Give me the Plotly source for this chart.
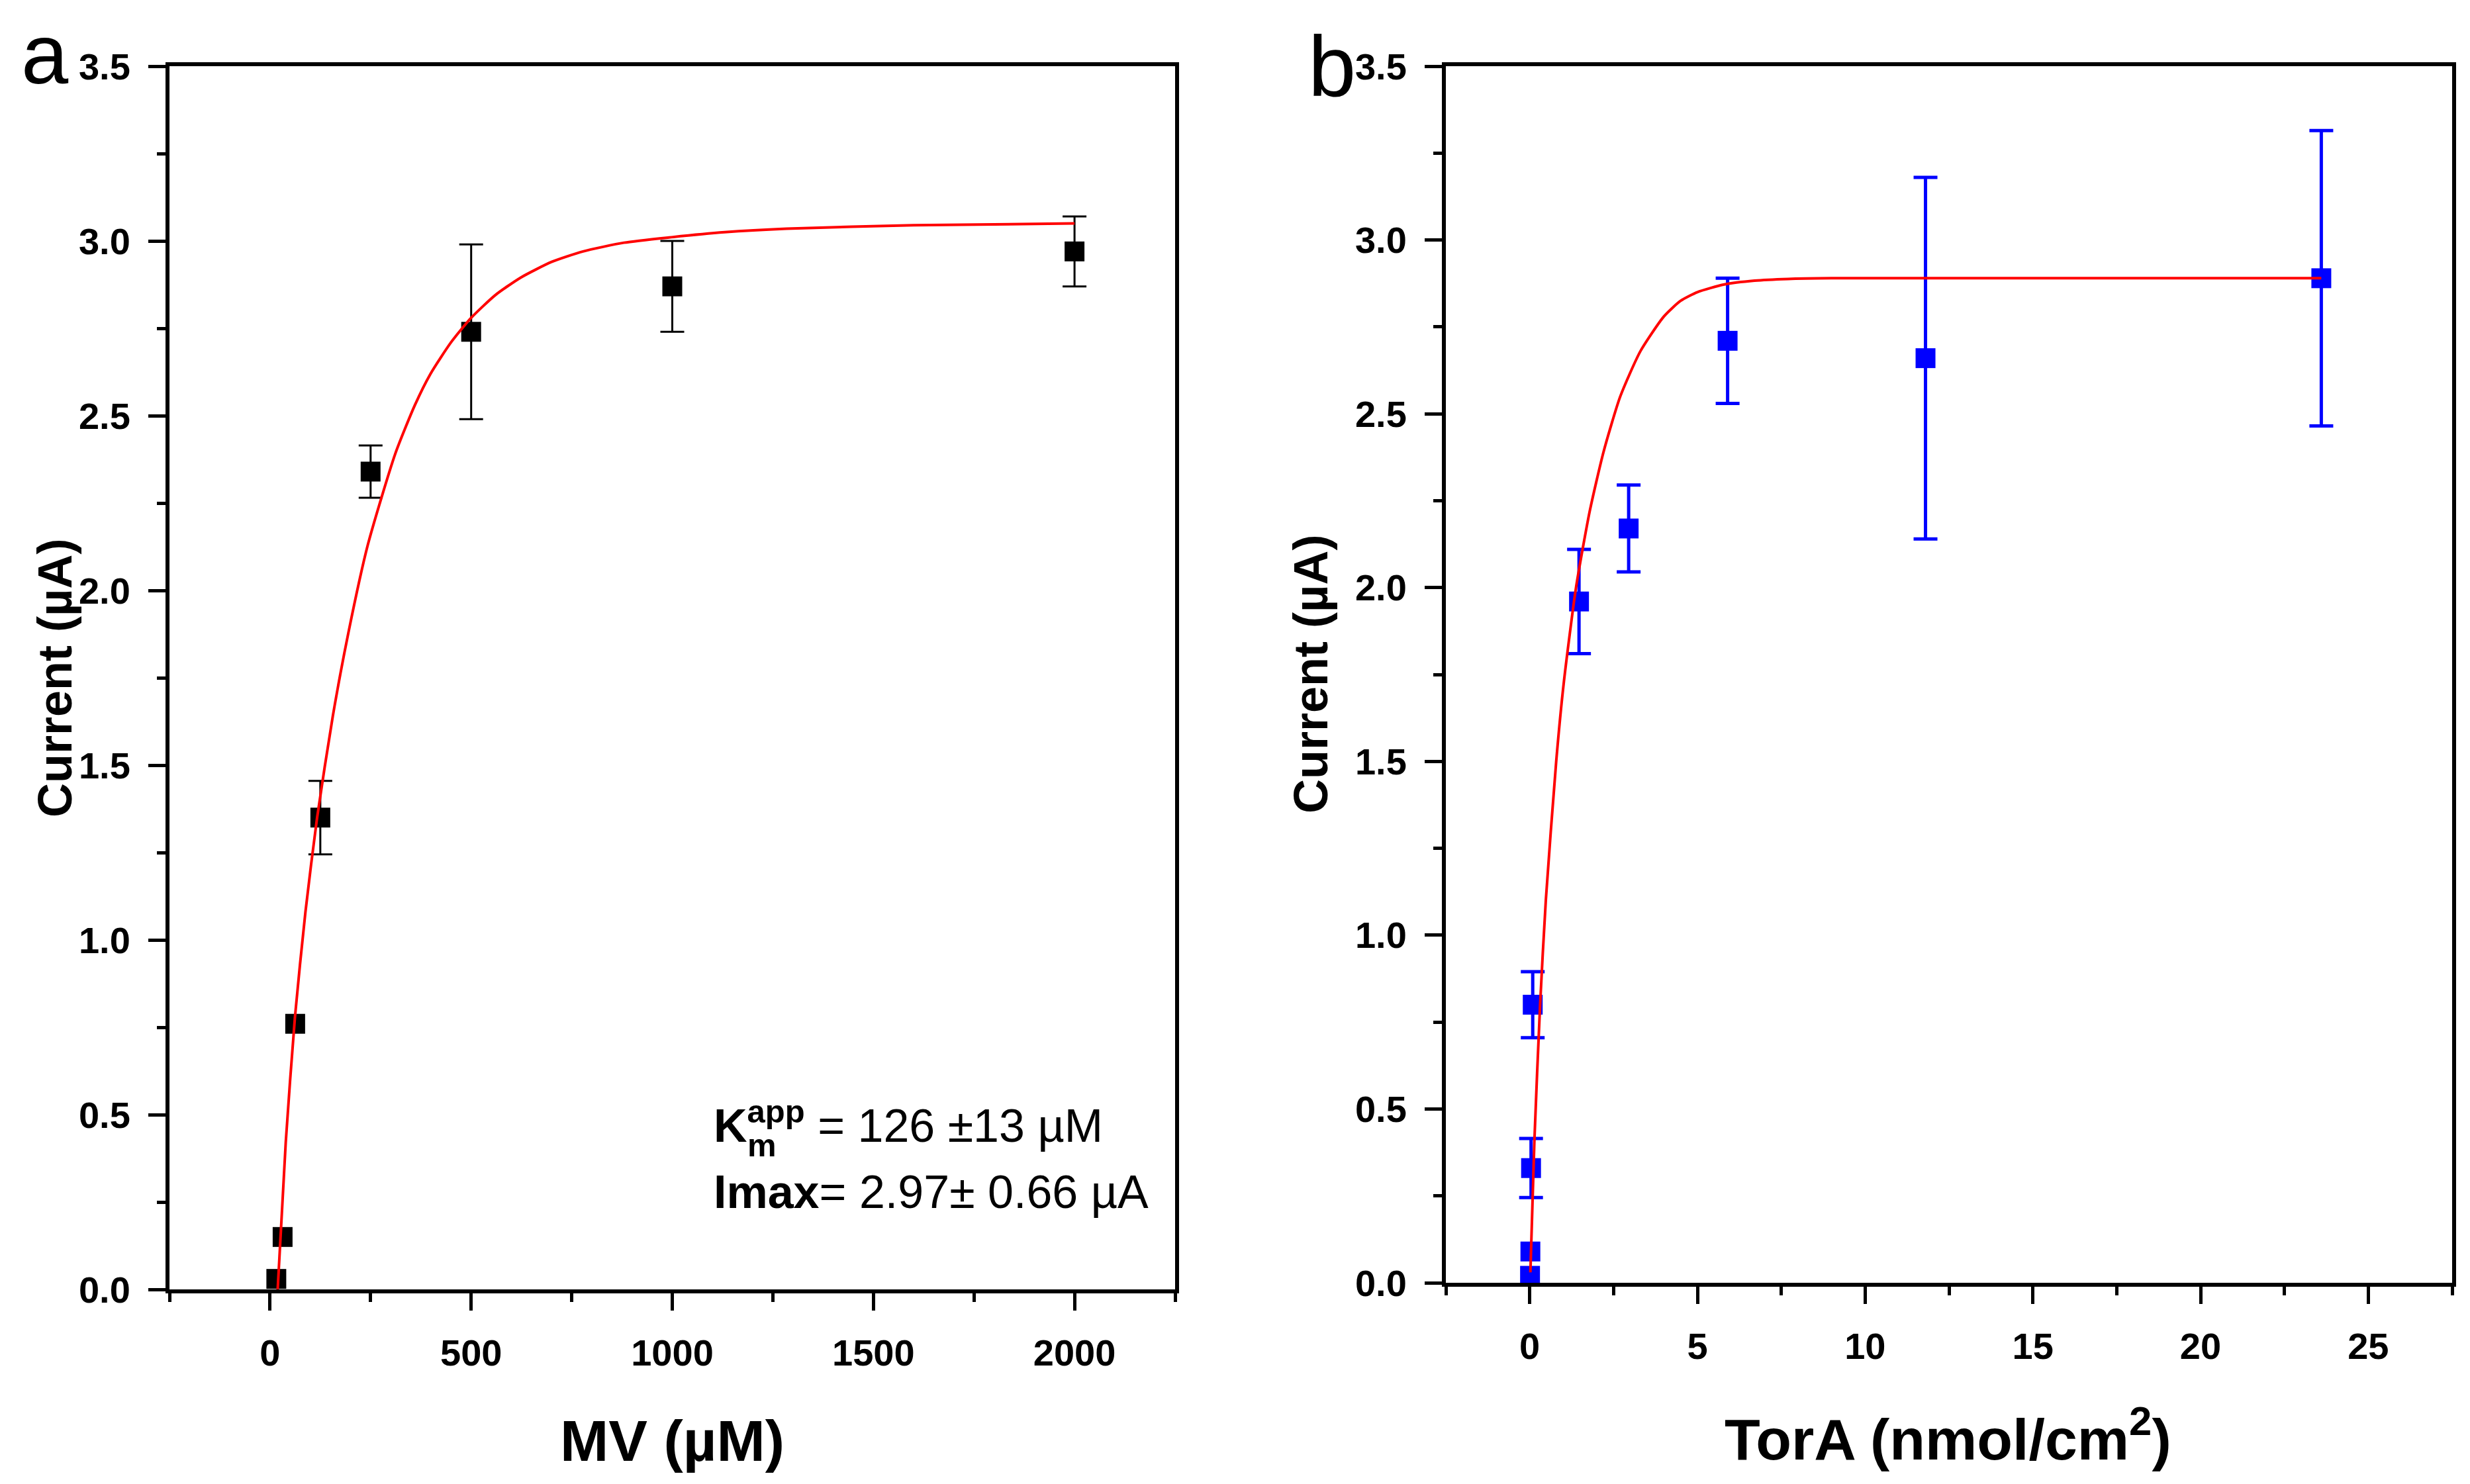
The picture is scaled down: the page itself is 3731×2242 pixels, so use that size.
import plotly.graph_objects as go

# ---------------- data ----------------
# panel a: current vs MV concentration (None = no visible error bar)
mv_conc = [15.6, 31.25, 62.5, 125, 250, 500, 1000, 2000]
mv_current = [0.03, 0.15, 0.76, 1.35, 2.34, 2.74, 2.87, 2.97]
mv_err = [None, None, None, 0.105, 0.075, 0.25, 0.13, 0.10]

mv_fit_x = [19, 39, 62, 88, 117, 156, 195, 243, 311, 360, 399, 450, 500, 560, 623, 700, 778, 880, 992, 1130, 1284, 1600, 2000]
mv_fit_y = [0.0, 0.42, 0.78, 1.08, 1.35, 1.64, 1.88, 2.13, 2.39, 2.53, 2.62, 2.71, 2.78, 2.845, 2.895, 2.94, 2.97, 2.995, 3.01, 3.025, 3.035, 3.045, 3.05]

# panel b: current vs TorA loading
tora_conc = [0.01, 0.02, 0.04, 0.09, 1.47, 2.95, 5.9, 11.8, 23.6]
tora_current = [0.02, 0.09, 0.33, 0.80, 1.96, 2.17, 2.71, 2.66, 2.89]
tora_err = [None, None, 0.085, 0.095, 0.15, 0.125, 0.18, 0.52, 0.425]

tora_fit_x = [0.02, 0.14, 0.31, 0.48, 0.79, 1.02, 1.38, 1.79, 2.2, 2.7, 3.3, 4.0, 4.5, 5.0, 5.8, 6.7, 7.7, 9.0, 12, 18, 23.6]
tora_fit_y = [0.03, 0.41, 0.80, 1.10, 1.50, 1.73, 2.00, 2.22, 2.39, 2.55, 2.68, 2.78, 2.825, 2.85, 2.872, 2.883, 2.888, 2.89, 2.89, 2.89, 2.89]

y_title = "Current (µA)"
xa_title = "MV (µM)"
xb_title = "TorA (nmol/cm<sup>2</sup>)"

# ---------------- figure ----------------
W, H = 3731, 2242
FONT = "Liberation Sans, Arial, sans-serif"


def with_err(xs, ys, es):
    sel = [i for i, e in enumerate(es) if e is not None]
    return [xs[i] for i in sel], [ys[i] for i in sel], [es[i] for i in sel]


fig = go.Figure()

# panel a
ex, ey, ee = with_err(mv_conc, mv_current, mv_err)
fig.add_trace(go.Scatter(
    x=ex, y=ey, mode="markers", marker=dict(size=1, opacity=0),
    error_y=dict(type="data", array=ee, visible=True, color="black", thickness=3, width=18),
    xaxis="x", yaxis="y", showlegend=False, hoverinfo="skip"))
fig.add_trace(go.Scatter(
    x=mv_conc, y=mv_current, mode="markers",
    marker=dict(symbol="square", size=30, color="black"),
    xaxis="x", yaxis="y", showlegend=False))
fig.add_trace(go.Scatter(
    x=mv_fit_x, y=mv_fit_y, mode="lines",
    line=dict(color="#ff0000", width=4, shape="spline", smoothing=0.6),
    xaxis="x", yaxis="y", showlegend=False))

# panel b
ex, ey, ee = with_err(tora_conc, tora_current, tora_err)
fig.add_trace(go.Scatter(
    x=ex, y=ey, mode="markers", marker=dict(size=1, opacity=0),
    error_y=dict(type="data", array=ee, visible=True, color="#0000ff", thickness=5, width=18),
    xaxis="x2", yaxis="y2", showlegend=False, hoverinfo="skip"))
fig.add_trace(go.Scatter(
    x=tora_conc, y=tora_current, mode="markers",
    marker=dict(symbol="square", size=30, color="#0000ff"),
    xaxis="x2", yaxis="y2", showlegend=False))
fig.add_trace(go.Scatter(
    x=tora_fit_x, y=tora_fit_y, mode="lines",
    line=dict(color="#ff0000", width=4, shape="spline", smoothing=0.6),
    xaxis="x2", yaxis="y2", showlegend=False))


def ax(**kw):
    base = dict(
        showline=True, linecolor="black", linewidth=6, mirror=True,
        ticks="outside", ticklen=26, tickwidth=5, tickcolor="black",
        showgrid=False, zeroline=False, automargin=False,
        tickfont=dict(family=FONT, size=56, color="black", weight="bold"),
        ticklabelstandoff=16,
    )
    base.update(kw)
    return base


tick_minor = dict(ticks="outside", ticklen=13, tickwidth=5, tickcolor="black", showgrid=False)

fig.update_layout(
    width=W, height=H,
    margin=dict(l=0, r=0, t=0, b=0),
    paper_bgcolor="white", plot_bgcolor="white",
    showlegend=False,
    xaxis=ax(domain=[248 / W, 1767 / W], range=[-250, 2250], dtick=500, tick0=0,
             anchor="y", minor=dict(dtick=250, **tick_minor)),
    yaxis=ax(domain=[1 - 1940 / H, 1 - 92 / H], range=[0, 3.5], dtick=0.5, tick0=0,
             tickformat=".1f", anchor="x", minor=dict(dtick=0.25, **tick_minor)),
    xaxis2=ax(domain=[2176 / W, 3696 / W], range=[-2.5, 27.5], dtick=5, tick0=0,
              anchor="y2", minor=dict(dtick=2.5, **tick_minor)),
    yaxis2=ax(domain=[1 - 1930 / H, 1 - 92 / H], range=[0, 3.5], dtick=0.5, tick0=0,
              tickformat=".1f", anchor="x2", minor=dict(dtick=0.25, **tick_minor)),
)

ann_font_title = dict(family=FONT, size=88, color="black", weight="bold")
ann_font_y = dict(family=FONT, size=72, color="black", weight="bold")

annotations = [
    # axis titles
    dict(text=xa_title, x=1007 / W, y=1 - 2168 / H, xref="paper", yref="paper",
         xanchor="center", yanchor="middle", showarrow=False, font=ann_font_title),
    dict(text=xb_title, x=2934 / W, y=1 - 2160 / H, xref="paper", yref="paper",
         xanchor="center", yanchor="middle", showarrow=False, font=ann_font_title),
    dict(text=y_title, x=75 / W, y=1 - 1017 / H, xref="paper", yref="paper",
         xanchor="center", yanchor="middle", textangle=-90, showarrow=False, font=ann_font_y),
    dict(text=y_title, x=1972 / W, y=1 - 1011 / H, xref="paper", yref="paper",
         xanchor="center", yanchor="middle", textangle=-90, showarrow=False, font=ann_font_y),
    # panel labels
    dict(text="a", x=22 / W, y=1.0, xref="paper", yref="paper",
         xanchor="left", yanchor="top", showarrow=False,
         font=dict(family=FONT, size=128, color="black")),
    dict(text="b", x=1966 / W, y=1 - 92 / H, xref="paper", yref="paper",
         xanchor="left", yanchor="middle", showarrow=False,
         font=dict(family=FONT, size=130, color="black")),
    # kinetic parameters
    dict(text="<b>K</b><sup><b>app</b></sup> = 126 ±13 µM", x=1068 / W, y=1 - 1688 / H,
         xref="paper", yref="paper", xanchor="left", yanchor="middle", showarrow=False,
         font=dict(family=FONT, size=70, color="black")),
    dict(text="<b>m</b>", x=1119 / W, y=1 - 1722 / H,
         xref="paper", yref="paper", xanchor="left", yanchor="middle", showarrow=False,
         font=dict(family=FONT, size=49, color="black")),
    dict(text="<b>Imax</b>= 2.97± 0.66 µA", x=1068 / W, y=1 - 1793 / H,
         xref="paper", yref="paper", xanchor="left", yanchor="middle", showarrow=False,
         font=dict(family=FONT, size=70, color="black")),
]
fig.update_layout(annotations=annotations)

fig.write_html("out.html")
